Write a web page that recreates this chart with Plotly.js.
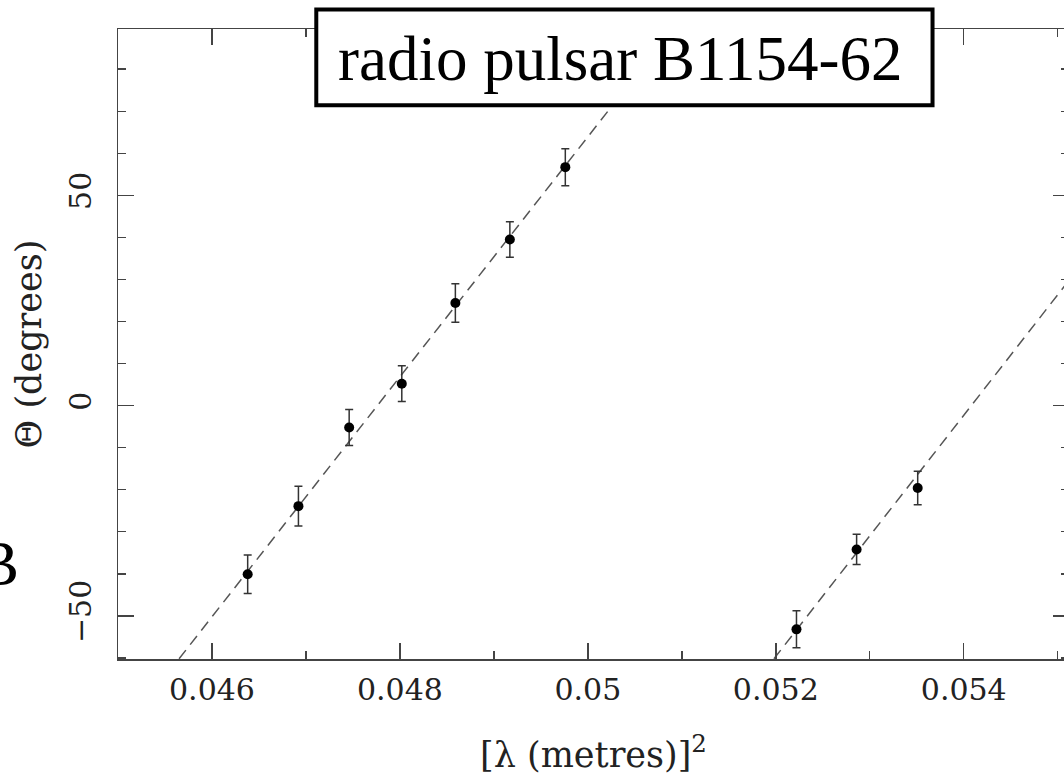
<!DOCTYPE html>
<html>
<head>
<meta charset="utf-8">
<script src="https://cdn.plot.ly/plotly-3.0.1.min.js"></script>
<style>
  html, body { margin: 0; padding: 0; overflow: hidden; background: #fff; }
  #chart { width: 1075px; height: 775px; }
</style>
</head>
<body>
<div id="chart"></div>
<script>
// Observed position angles vs wavelength squared
const lambdaSq = [0.04638, 0.04692, 0.04746, 0.04802, 0.04859, 0.04917, 0.04976, 0.05222, 0.05286, 0.05351];
const theta    = [-40.1, -23.9, -5.2, 5.2, 24.4, 39.5, 56.7, -53.2, -34.2, -19.6];
const thetaErr = [4.6, 4.75, 4.3, 4.25, 4.55, 4.2, 4.4, 4.4, 3.6, 4.0];

// Rotation-measure fit (dashed), wrapped by 180 degrees
const fit1X = [0.04565, 0.05090];
const fit1Y = [-60.2, 89.6];
const fit2X = [0.05198, 0.05512];
const fit2Y = [-60.2, 29.8];

const xTickVals = [0.046, 0.048, 0.050, 0.052, 0.054];
const xTickText = ['0.046', '0.048', '0.05', '0.052', '0.054'];
const yTickVals = [-50, 0, 50];
const yTickText = ['\u221250', '0', '50'];

const titleText = 'radio pulsar B1154-62';
const panelLabel = 'B';

const axisColor = '#444';
const serif = 'DejaVu Serif, Liberation Serif, serif';
const tickFont = { family: serif, size: 30, color: '#222' };

const dashStyle = { color: '#555', width: 1.5, dash: '11px,7px' };

const traces = [
  { x: fit1X, y: fit1Y, mode: 'lines', line: dashStyle, hoverinfo: 'skip', showlegend: false },
  { x: fit2X, y: fit2Y, mode: 'lines', line: dashStyle, hoverinfo: 'skip', showlegend: false },
  {
    x: lambdaSq, y: theta, mode: 'markers', showlegend: false,
    marker: { color: '#000', size: 10 },
    error_y: { type: 'data', array: thetaErr, visible: true, color: '#333', thickness: 1.5, width: 4 }
  }
];

const axisCommon = {
  showline: true, linecolor: axisColor, linewidth: 1.5,
  mirror: 'ticks', ticks: 'inside', ticklen: 16, tickwidth: 1.4, tickcolor: axisColor,
  showgrid: false, zeroline: false, tickfont: tickFont
};

const layout = {
  width: 1075, height: 775,
  margin: { l: 118, r: 6, t: 29, b: 116 },
  paper_bgcolor: '#fff', plot_bgcolor: '#fff',
  showlegend: false,
  xaxis: Object.assign({}, axisCommon, {
    range: [0.045, 0.05512],
    tickmode: 'array', tickvals: xTickVals, ticktext: xTickText,
    ticklabelstandoff: 3,
    minor: { dtick: 0.001, tick0: 0.045, ticks: 'inside', ticklen: 8, tickwidth: 1.4, tickcolor: axisColor, showgrid: false },
    title: { text: '[\u03bb (metres)]<sup>2</sup>', font: { family: serif, size: 35, color: '#222' }, standoff: 38 }
  }),
  yaxis: Object.assign({}, axisCommon, {
    range: [-60.25, 89.55],
    tickmode: 'array', tickvals: yTickVals, ticktext: yTickText, tickangle: -90,
    ticklabelstandoff: 14,
    minor: { dtick: 10, tick0: 0, ticks: 'inside', ticklen: 8, tickwidth: 1.4, tickcolor: axisColor, showgrid: false },
    title: { text: '\u0398 (degrees)', font: { family: serif, size: 35, color: '#222' }, standoff: 10 }
  }),
  shapes: [
    { type: 'rect', xref: 'paper', yref: 'paper', x0: 0.2085, x1: 0.8565, y0: 0.8789, y1: 1.0310,
      line: { color: '#000', width: 4 }, fillcolor: '#fff', layer: 'above' }
  ],
  annotations: [
    { xref: 'paper', yref: 'paper', x: 0.5284, y: 0.952, xanchor: 'center', yanchor: 'middle',
      text: titleText, showarrow: false, font: { family: 'Liberation Serif', size: 63, color: '#000' } },
    { xref: 'paper', yref: 'paper', x: -0.1015, y: 0.1508, xanchor: 'right', yanchor: 'middle',
      text: panelLabel, showarrow: false, font: { family: 'Liberation Serif', size: 63, color: '#000' } }
  ]
};

Plotly.newPlot('chart', traces, layout, { displayModeBar: false, staticPlot: true });
</script>
</body>
</html>
